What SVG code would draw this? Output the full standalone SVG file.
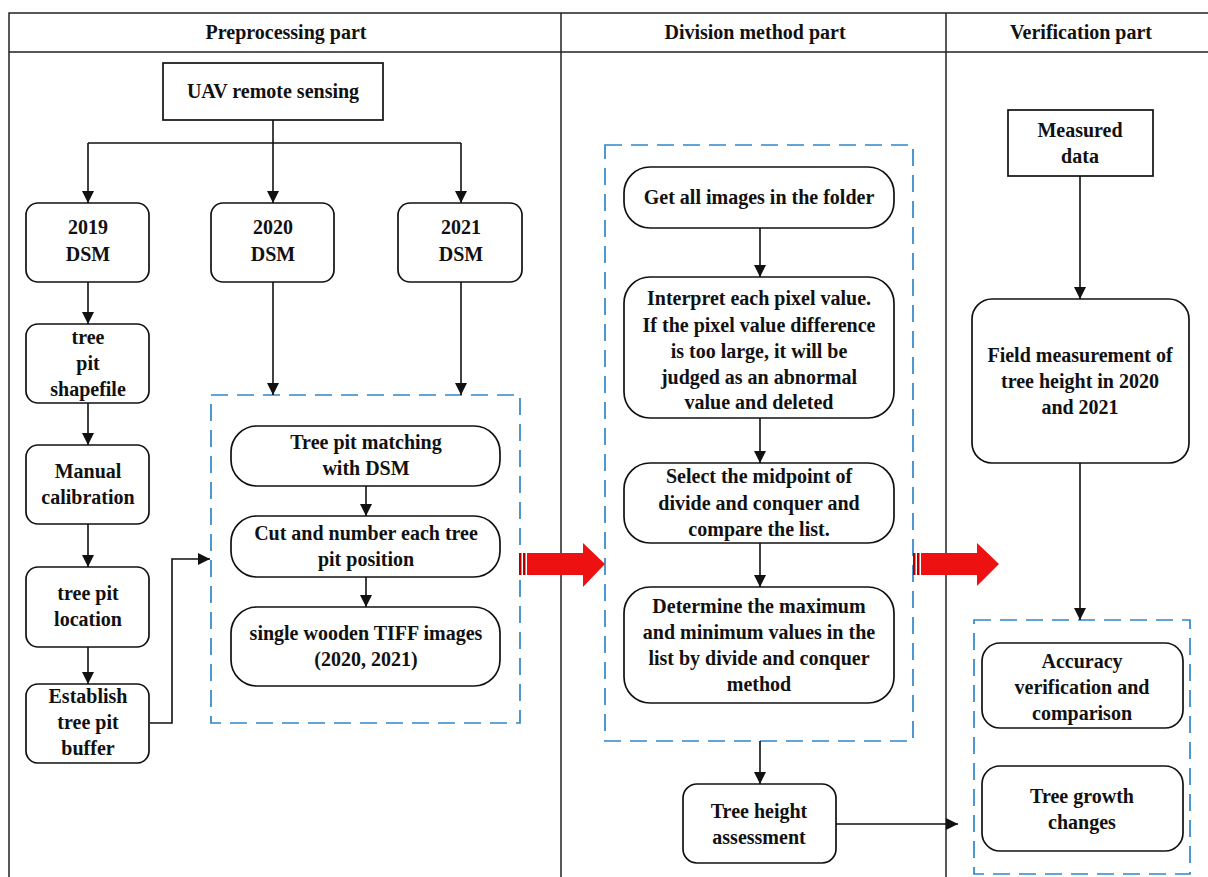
<svg xmlns="http://www.w3.org/2000/svg" width="1208" height="877" viewBox="0 0 1208 877">
<defs>
<style>
.frame{fill:none;stroke:#222;stroke-width:1.5}
.box{fill:#fff;stroke:#111;stroke-width:1.7}
.dash{fill:none;stroke:#2f86c8;stroke-width:1.7;stroke-dasharray:17 9}
.ln{fill:none;stroke:#111;stroke-width:1.6}
.t{font-family:'Liberation Serif','Times New Roman',serif;font-weight:bold;font-size:20px;fill:#111;text-anchor:middle}
.red{fill:#ee1111}
.stripe{fill:#b00000}
</style>
<marker id="ah" viewBox="0 0 10 10" refX="10" refY="5" markerWidth="12" markerHeight="16" markerUnits="userSpaceOnUse" orient="auto">
<path d="M0,0 L10,5 L0,10 z" fill="#111"/>
</marker>
</defs>
<rect width="1208" height="877" fill="#fff"/>

<g id="frame" font-family="Liberation Serif, serif">
<path class="frame" d="M1208,13 H9 V877 M9,52 H1208 M561,13 V877 M946,13 V877"/>
<text class="t" x="286" y="39">Preprocessing part</text>
<text class="t" x="755" y="39">Division method part</text>
<text class="t" x="1081" y="39">Verification part</text>
</g>

<g id="groups">
<rect id="grp-match" class="dash" x="211" y="395" width="309" height="328"/>
<rect id="grp-division" class="dash" x="605" y="145" width="308" height="596"/>
<rect id="grp-verify" class="dash" x="974" y="620" width="216" height="254"/>
</g>

<g id="connectors">
<path class="ln" d="M273,120 V143"/>
<path class="ln" d="M88,143 H461"/>
<path class="ln" d="M88,143 V203" marker-end="url(#ah)"/>
<path class="ln" d="M273,143 V203" marker-end="url(#ah)"/>
<path class="ln" d="M461,143 V203" marker-end="url(#ah)"/>
<path class="ln" d="M88,282 V324" marker-end="url(#ah)"/>
<path class="ln" d="M88,403 V445" marker-end="url(#ah)"/>
<path class="ln" d="M88,524 V567" marker-end="url(#ah)"/>
<path class="ln" d="M88,647 V684" marker-end="url(#ah)"/>
<path class="ln" d="M150,723 H172 V559 H210" marker-end="url(#ah)"/>
<path class="ln" d="M273,282 V395" marker-end="url(#ah)"/>
<path class="ln" d="M461,282 V395" marker-end="url(#ah)"/>
<path class="ln" d="M366,486 V516" marker-end="url(#ah)"/>
<path class="ln" d="M366,577 V607" marker-end="url(#ah)"/>
<path class="ln" d="M760,228 V277" marker-end="url(#ah)"/>
<path class="ln" d="M760,418 V463" marker-end="url(#ah)"/>
<path class="ln" d="M760,543 V587" marker-end="url(#ah)"/>
<path class="ln" d="M760,741 V784" marker-end="url(#ah)"/>
<path class="ln" d="M836,824 H958" marker-end="url(#ah)"/>
<path class="ln" d="M1080,176 V299" marker-end="url(#ah)"/>
<path class="ln" d="M1080,463 V620" marker-end="url(#ah)"/>
</g>

<g id="red-arrow-1">
<rect class="stripe" x="519" y="553" width="2.5" height="22"/>
<rect class="stripe" x="523" y="553" width="2.5" height="22"/>
<polygon class="red" points="527,553 583,553 583,543 605,564 583,587 583,575 527,575"/>
</g>
<g id="red-arrow-2">
<rect class="stripe" x="913" y="553" width="2.5" height="22"/>
<rect class="stripe" x="917" y="553" width="2.5" height="22"/>
<polygon class="red" points="921,553 977,553 977,543 999,564 977,586 977,575 921,575"/>
</g>

<g id="nodes" font-family="Liberation Serif, serif">
<g id="n-uav"><rect class="box" x="163" y="63" width="220" height="57"/><text class="t" x="273" y="98">UAV remote sensing</text></g>

<g id="n-2019"><rect class="box" x="26" y="203" width="123" height="79" rx="12"/><text class="t" x="88" y="234">2019</text><text class="t" x="88" y="261">DSM</text></g>
<g id="n-2020"><rect class="box" x="211" y="203" width="123" height="79" rx="12"/><text class="t" x="273" y="234">2020</text><text class="t" x="273" y="261">DSM</text></g>
<g id="n-2021"><rect class="box" x="398" y="203" width="124" height="79" rx="12"/><text class="t" x="461" y="234">2021</text><text class="t" x="461" y="261">DSM</text></g>

<g id="n-shapefile"><rect class="box" x="26" y="324" width="123" height="79" rx="12"/><text class="t" x="88" y="344">tree</text><text class="t" x="88" y="370">pit</text><text class="t" x="88" y="396">shapefile</text></g>
<g id="n-manual"><rect class="box" x="26" y="445" width="123" height="79" rx="12"/><text class="t" x="88" y="478">Manual</text><text class="t" x="88" y="504">calibration</text></g>
<g id="n-location"><rect class="box" x="26" y="567" width="123" height="80" rx="12"/><text class="t" x="88" y="600">tree pit</text><text class="t" x="88" y="626">location</text></g>
<g id="n-buffer"><rect class="box" x="26" y="684" width="123" height="79" rx="12"/><text class="t" x="88" y="703">Establish</text><text class="t" x="88" y="729">tree pit</text><text class="t" x="88" y="755">buffer</text></g>

<g id="n-match"><rect class="box" x="231" y="426" width="269" height="60" rx="26"/><text class="t" x="366" y="449">Tree pit matching</text><text class="t" x="366" y="475">with DSM</text></g>
<g id="n-cut"><rect class="box" x="231" y="516" width="269" height="61" rx="26"/><text class="t" x="366" y="540">Cut and number each tree</text><text class="t" x="366" y="566">pit position</text></g>
<g id="n-tiff"><rect class="box" x="231" y="607" width="269" height="79" rx="26"/><text class="t" x="366" y="640">single wooden TIFF images</text><text class="t" x="366" y="666">(2020, 2021)</text></g>

<g id="n-getall"><rect class="box" x="624" y="167" width="270" height="61" rx="26"/><text class="t" x="759" y="204">Get all images in the folder</text></g>
<g id="n-interpret"><rect class="box" x="624" y="277" width="270" height="141" rx="26"/><text class="t" x="759" y="305">Interpret each pixel value.</text><text class="t" x="759" y="332">If the pixel value difference</text><text class="t" x="759" y="358">is too large, it will be</text><text class="t" x="759" y="384">judged as an abnormal</text><text class="t" x="759" y="409">value and deleted</text></g>
<g id="n-select"><rect class="box" x="624" y="463" width="270" height="80" rx="26"/><text class="t" x="759" y="483">Select the midpoint of</text><text class="t" x="759" y="510">divide and conquer and</text><text class="t" x="759" y="536">compare the list.</text></g>
<g id="n-determine"><rect class="box" x="624" y="587" width="270" height="116" rx="26"/><text class="t" x="759" y="613">Determine the maximum</text><text class="t" x="759" y="639">and minimum values in the</text><text class="t" x="759" y="665">list by divide and conquer</text><text class="t" x="759" y="691">method</text></g>

<g id="n-height"><rect class="box" x="683" y="784" width="153" height="79" rx="14"/><text class="t" x="759" y="818">Tree height</text><text class="t" x="759" y="844">assessment</text></g>

<g id="n-measured"><rect class="box" x="1008" y="110" width="145" height="66"/><text class="t" x="1080" y="137">Measured</text><text class="t" x="1080" y="163">data</text></g>
<g id="n-field"><rect class="box" x="972" y="299" width="217" height="164" rx="20"/><text class="t" x="1080" y="362">Field measurement of</text><text class="t" x="1080" y="388">tree height in 2020</text><text class="t" x="1080" y="414">and 2021</text></g>
<g id="n-accuracy"><rect class="box" x="982" y="643" width="201" height="85" rx="18"/><text class="t" x="1082" y="668">Accuracy</text><text class="t" x="1082" y="694">verification and</text><text class="t" x="1082" y="720">comparison</text></g>
<g id="n-growth"><rect class="box" x="982" y="766" width="201" height="85" rx="18"/><text class="t" x="1082" y="803">Tree growth</text><text class="t" x="1082" y="829">changes</text></g>
</g>
</svg>
